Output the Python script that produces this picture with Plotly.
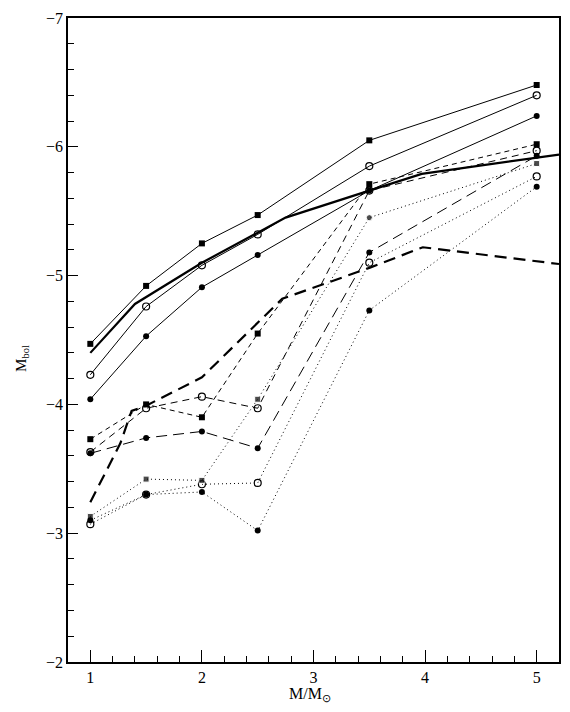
import plotly.graph_objects as go

# ---- data ----
mass = [1, 1.5, 2, 2.5, 3.5, 5]

solid_sq = [-4.47, -4.92, -5.25, -5.47, -6.05, -6.48]
solid_oc = [-4.23, -4.76, -5.08, -5.32, -5.85, -6.40]
solid_fc = [-4.04, -4.53, -4.91, -5.16, -5.66, -6.24]

dashed_sq = [-3.73, -4.00, -3.90, -4.55, -5.71, -6.02]
dashed_oc = [-3.63, -3.97, -4.06, -3.97, -5.66, -5.97]
dashed_fc = [-3.62, -3.74, -3.79, -3.66, -5.18, -5.93]

dotted_sq = [-3.13, -3.42, -3.41, -4.04, -5.45, -5.87]
dotted_oc = [-3.07, -3.30, -3.38, -3.39, -5.10, -5.77]
dotted_fc = [-3.10, -3.30, -3.32, -3.02, -4.73, -5.69]

thick_solid_x = [1, 1.4, 2, 2.75, 3.5, 3.97, 5.2]
thick_solid_y = [-4.40, -4.78, -5.10, -5.45, -5.66, -5.79, -5.94]

thick_dash_x = [1, 1.27, 1.37, 1.5, 2, 2.72, 3.5, 3.98, 5.2]
thick_dash_y = [-3.24, -3.70, -3.95, -3.99, -4.21, -4.82, -5.06, -5.22, -5.09]

x_ticks = [1, 2, 3, 4, 5]
y_ticks = [-7, -6, -5, -4, -3, -2]

# ---- styles ----
SQ = dict(symbol="square", size=6, color="black")
OC = dict(symbol="circle-open", size=7, color="black", line=dict(width=1.2, color="black"))
FC = dict(symbol="circle", size=6, color="black")

fig = go.Figure()

def add(x, y, dash, width, marker=None):
    fig.add_trace(go.Scatter(
        x=x, y=y,
        mode="lines+markers" if marker else "lines",
        line=dict(color="black", width=width, dash=dash),
        marker=marker if marker else None,
        showlegend=False, hoverinfo="skip",
    ))

add(mass, dotted_oc, "1px,3px", 1, OC)
add(mass, dotted_sq, "1px,3px", 1,
    dict(symbol=["square", "square", "square", "square", "circle", "square"],
         size=[6, 6, 6, 6, 6, 6], color="black"))
add(mass, dotted_fc, "1px,3px", 1, FC)

add(mass, dashed_oc, "7px,5px", 1, OC)
add(mass, dashed_sq, "5px,4px", 1, SQ)
add(mass, dashed_fc, "11px,6px", 1, FC)

add(mass, solid_oc, "solid", 1, OC)
add(mass, solid_sq, "solid", 1, SQ)
add(mass, solid_fc, "solid", 1, FC)

add(thick_solid_x, thick_solid_y, "solid", 2.2)
add(thick_dash_x, thick_dash_y, "12px,7px", 2.2)

serif = "Liberation Serif"

fig.update_layout(
    width=562, height=704,
    margin=dict(l=60, r=11, t=10, b=50, autoexpand=False),
    paper_bgcolor="white", plot_bgcolor="white",
    font=dict(family=serif, color="black"),
    xaxis=dict(
        range=[0.8, 5.2], autorange=False, automargin=False,
        tickmode="array", tickvals=x_ticks, ticktext=[str(v) for v in x_ticks],
        ticks="inside", ticklen=12, tickwidth=1.2, tickcolor="black",
        minor=dict(dtick=0.2, ticks="inside", ticklen=6, tickwidth=1.2, tickcolor="black"),
        showline=True, linecolor="black", linewidth=1.5, mirror=True,
        showgrid=False, zeroline=False,
        tickfont=dict(family=serif, size=16, color="black"),
    ),
    yaxis=dict(
        range=[-2, -7], autorange=False, automargin=False,
        tickmode="array", tickvals=y_ticks, ticktext=["−" + str(-v) for v in y_ticks],
        ticks="inside", ticklen=10, tickwidth=1.2, tickcolor="black",
        minor=dict(dtick=0.2, ticks="inside", ticklen=6, tickwidth=1.2, tickcolor="black"),
        showline=True, linecolor="black", linewidth=1.5, mirror=True,
        showgrid=False, zeroline=False,
        tickfont=dict(family=serif, size=16, color="black"),
    ),
    annotations=[
        dict(text="M/M<sub>⊙</sub>", xref="paper", yref="paper", x=0.493, y=-0.05,
             xanchor="center", yanchor="middle", showarrow=False,
             font=dict(family=serif, size=16, color="black")),
        dict(text="M<sub>bol</sub>", xref="paper", yref="paper", x=-0.094, y=0.472,
             xanchor="center", yanchor="middle", showarrow=False, textangle=-90,
             font=dict(family=serif, size=15, color="black")),
    ],
)

fig.write_html("out.html")
